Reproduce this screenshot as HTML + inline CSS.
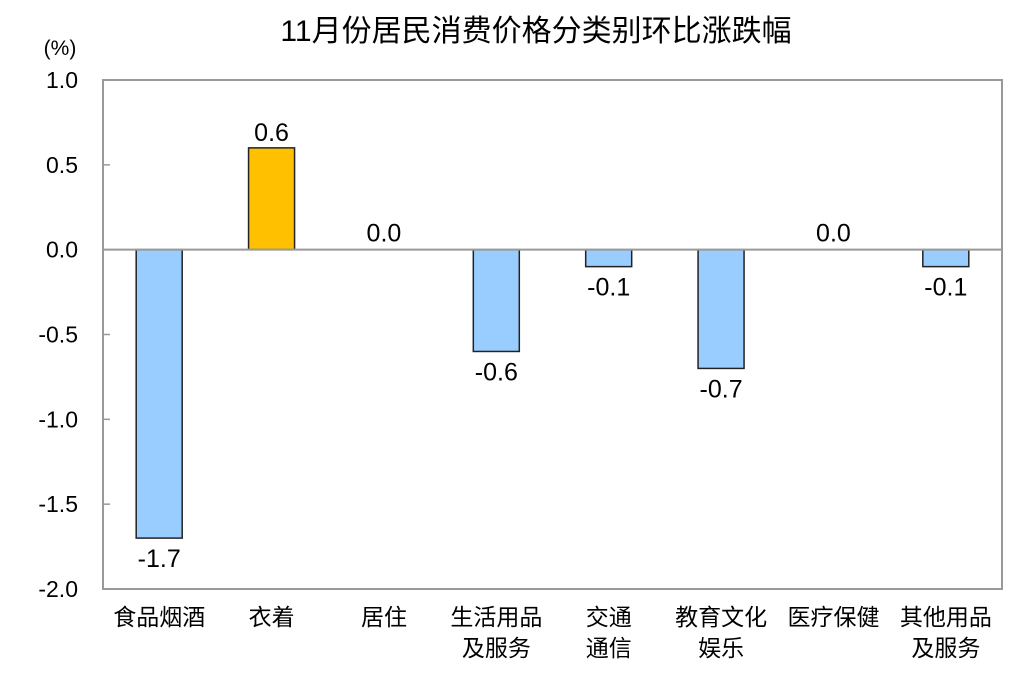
<!DOCTYPE html>
<html><head><meta charset="utf-8"><style>
body{margin:0;background:#fff;width:1018px;height:686px;overflow:hidden}
text{font-family:"Liberation Sans","Noto Sans CJK SC",sans-serif;fill:#000}
</style></head><body>
<svg id="c" width="1018" height="686"></svg>
<script>
const categories=[["食品烟酒"],["衣着"],["居住"],["生活用品","及服务"],["交通","通信"],["教育文化","娱乐"],["医疗保健"],["其他用品","及服务"]];
const values=[-1.7,0.6,0.0,-0.6,-0.1,-0.7,0.0,-0.1];
const labels=["-1.7","0.6","0.0","-0.6","-0.1","-0.7","0.0","-0.1"];
const yTicks=[1.0,0.5,0.0,-0.5,-1.0,-1.5,-2.0];
const yTickLabels=["1.0","0.5","0.0","-0.5","-1.0","-1.5","-2.0"];
const svg=document.getElementById('c');const NS='http://www.w3.org/2000/svg';
const L=103,R=1002,T=80,B=589,ymax=1,ymin=-2;
const y=v=>T+(ymax-v)/(ymax-ymin)*(B-T);
const band=(R-L)/categories.length;
const x=i=>L+band*(i+0.5);
function mk(t,a,txt){const e=document.createElementNS(NS,t);for(const k in a)e.setAttribute(k,a[k]);if(txt!=null)e.textContent=txt;svg.appendChild(e);return e;}
let e;
e=mk('text',{x:536,y:41,'font-size':30,'text-anchor':'middle'},'11月份居民消费价格分类别环比涨跌幅');


e=mk('text',{x:60,y:55,'font-size':21,'text-anchor':'middle'},'(%)');


e=mk('rect',{x:L,y:T,width:R-L,height:B-T,fill:'none',stroke:'#999','stroke-width':2});


yTicks.forEach((v,i)=>{
 e=mk('line',{x1:L,x2:L+7,y1:y(v),y2:y(v),stroke:'#999','stroke-width':1.5});
 
 
 e=mk('text',{x:78,y:y(v)+8,'font-size':23,'text-anchor':'end'},yTickLabels[i]);
 
 
});
const bw=46;
values.forEach((v,i)=>{
 const cx=x(i);
 if(v!==0){
  const y0=y(0),y1=y(v);
  e=mk('rect',{x:cx-bw/2,y:Math.min(y0,y1),width:bw,height:Math.abs(y1-y0),fill:v>0?'#FFC000':'#99CCFF',stroke:'#222','stroke-width':1.5});
  
  
 }
 const ly=v>0?y(v)-7:(v<0?y(v)+29:y(0)-8);
 e=mk('text',{x:cx,y:ly,'font-size':25,'text-anchor':'middle'},labels[i]);
 
 
 categories[i].forEach((s,j)=>{
  e=mk('text',{x:cx,y:625+j*31,'font-size':23,'text-anchor':'middle'},s);
  
  
 });
});
e=mk('line',{x1:L,x2:R,y1:y(0),y2:y(0),stroke:'#999','stroke-width':2});


</script>
</body></html>
